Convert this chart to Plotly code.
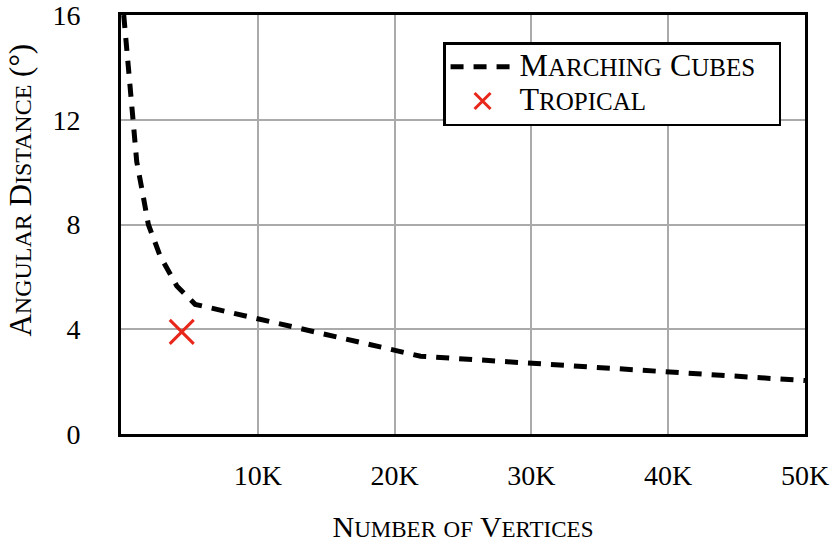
import plotly.graph_objects as go

FONT = "Liberation Serif"

# data
mc_vertices = [200, 530, 850, 1150, 1510, 2000, 2860, 4080, 5420, 21900, 50000]
mc_distance = [16.0, 13.9, 12.0, 10.4, 9.4, 8.0, 6.8, 5.65, 4.95, 2.97, 2.04]

tropical_vertices = [4440]
tropical_distance = [3.9]

x_ticks = [10000, 20000, 30000, 40000, 50000]
x_tick_labels = ["10K", "20K", "30K", "40K", "50K"]
y_ticks = [0, 4, 8, 12, 16]


def smallcaps(text, size, ratio=0.78):
    # fake small caps: lowercase letters become smaller capitals
    small = round(size * ratio)
    out = "<span style='font-size:%dpx'>" % size
    run = ""
    for ch in text:
        if ch.islower():
            run += ch.upper()
        else:
            if run:
                out += "<span style='font-size:%dpx'>%s</span>" % (small, run)
                run = ""
            out += ch
    if run:
        out += "<span style='font-size:%dpx'>%s</span>" % (small, run)
    return out + "</span>"


fig = go.Figure()
fig.add_trace(go.Scatter(x=mc_vertices, y=mc_distance, mode="lines",
                         line=dict(color="black", width=5, dash="13px,10px"),
                         name=smallcaps("Marching Cubes", 32) + "\u00a0\u00a0\u00a0"))
fig.add_trace(go.Scatter(x=tropical_vertices, y=tropical_distance, mode="markers",
                         marker=dict(symbol="x-thin", size=24, color="#e8261a",
                                     line=dict(color="#e8261a", width=3)),
                         name=smallcaps("Tropical", 32)))

fig.update_layout(
    width=832, height=543,
    margin=dict(l=121, r=27, t=15, b=109),
    plot_bgcolor="white", paper_bgcolor="white",
    font=dict(family=FONT, size=28, color="black"),
    showlegend=True,
    legend=dict(x=0.965, y=0.935, xanchor="right", yanchor="top",
                bgcolor="white", bordercolor="black", borderwidth=2.5,
                font=dict(size=24), itemwidth=64, tracegroupgap=0),
    annotations=[dict(text=smallcaps("Angular Distance (°)", 31), textangle=-90,
                      xref="paper", yref="paper", x=-0.147, y=0.582,
                      xanchor="center", yanchor="middle", showarrow=False)],
)
fig.update_xaxes(range=[0, 50000], tickvals=x_ticks, ticktext=x_tick_labels,
                 showgrid=True, gridcolor="#aaaaaa", gridwidth=1.5,
                 showline=True, linecolor="black", linewidth=3, mirror=True,
                 ticks="", ticklabelstandoff=14, ticklabeloverflow="allow",
                 zeroline=False, automargin=False,
                 title=dict(text=smallcaps("Number of Vertices", 30), standoff=24))
fig.update_yaxes(range=[0, 16], tickvals=y_ticks,
                 showgrid=True, gridcolor="#aaaaaa", gridwidth=1.5,
                 showline=True, linecolor="black", linewidth=3, mirror=True,
                 ticks="", ticklabelstandoff=32, ticklabeloverflow="allow",
                 zeroline=False, automargin=False)

# the page's default body margin would shift the figure by 8px
fig.write_html("out.html", config={"displayModeBar": False},
               post_script="document.body.style.margin='0px';")
